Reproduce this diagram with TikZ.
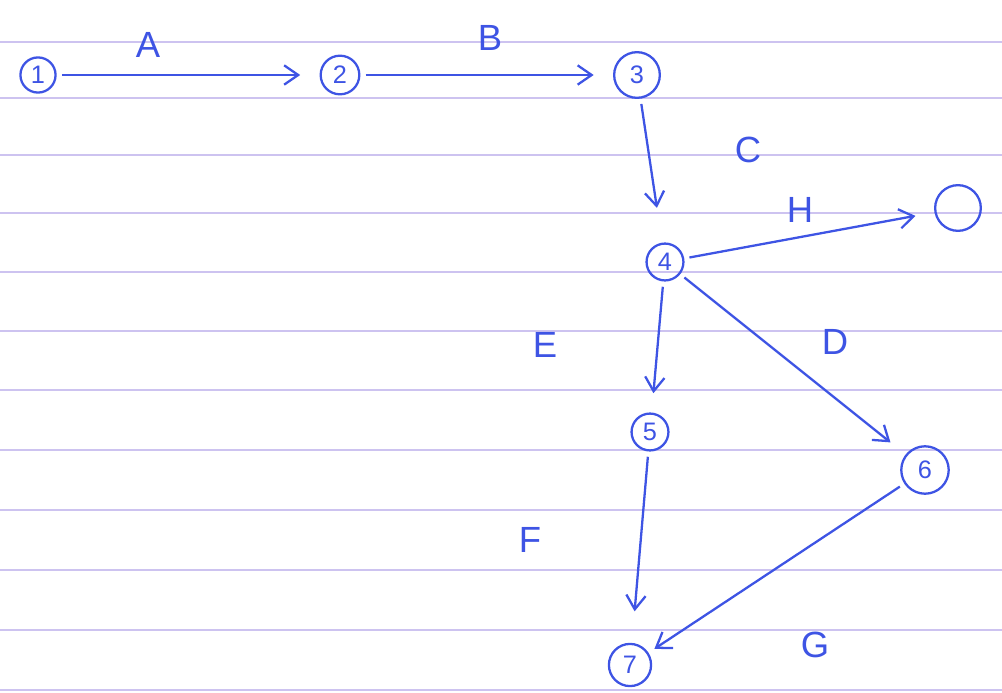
\documentclass[tikz,border=0pt]{standalone}
\usepackage{fontspec}
\setmainfont{Liberation Sans}
\usepackage{tikz}
\usetikzlibrary{arrows.meta}
\definecolor{ink}{RGB}{62,84,228}
\definecolor{rule}{RGB}{205,195,240}

\begin{document}
\begin{tikzpicture}[x=0.02cm,y=-0.02cm,
    every node/.style={text=ink},
    ev/.style={circle,draw=ink,line width=1.3pt,inner sep=0pt,font=\Large},
    lab/.style={font=\huge},
    act/.style={draw=ink,line width=1.3pt,-{Straight Barb[length=8pt,width=11pt]},shorten >=11pt,shorten <=3pt}]
  \useasboundingbox (0,0) rectangle (1002,693);

  % ruled paper
  \foreach \y in {42,98,155,213,272,331,390,450,510,570,630,690}
    \draw[rule,line width=1.2pt] (0,\y) -- (1002,\y);

  % Events
  \node[ev,minimum size=20pt] (e1) at (38,75) {1};
  \node[ev,minimum size=22pt] (e2) at (340,75) {2};
  \node[ev,minimum size=26pt] (e3) at (637,75) {3};
  \node[ev,minimum size=21pt] (e4) at (665,262) {4};
  \node[ev,minimum size=26pt] (e8) at (958,208) {};
  \node[ev,minimum size=21pt] (e5) at (650,432) {5};
  \node[ev,minimum size=27pt] (e6) at (925,470) {6};
  \node[ev,minimum size=24pt] (e7) at (630,665) {7};

  % Activities
  \draw[act] (e1) -- (e2);
  \draw[act] (e2) -- (e3);
  \draw[act,shorten >=20pt] (e3) -- (e4);
  \draw[act] (e4) -- (e8);
  \draw[act] (e4) -- (e6);
  \draw[act] (e4) -- (e5);
  \draw[act,shorten >=18pt] (e5) -- (e7);
  \draw[act,shorten >=4pt] (e6) -- (e7);

  % Activity labels
  \node[lab] (la) at (148,45) {A};
  \node[lab] (lb) at (490,38) {B};
  \node[lab] (lc) at (748,150) {C};
  \node[lab] (lh) at (800,210) {H};
  \node[lab] (ld) at (835,342) {D};
  \node[lab] (le) at (545,345) {E};
  \node[lab] (lf) at (530,540) {F};
  \node[lab] (lg) at (815,645) {G};
\end{tikzpicture}
\end{document}
